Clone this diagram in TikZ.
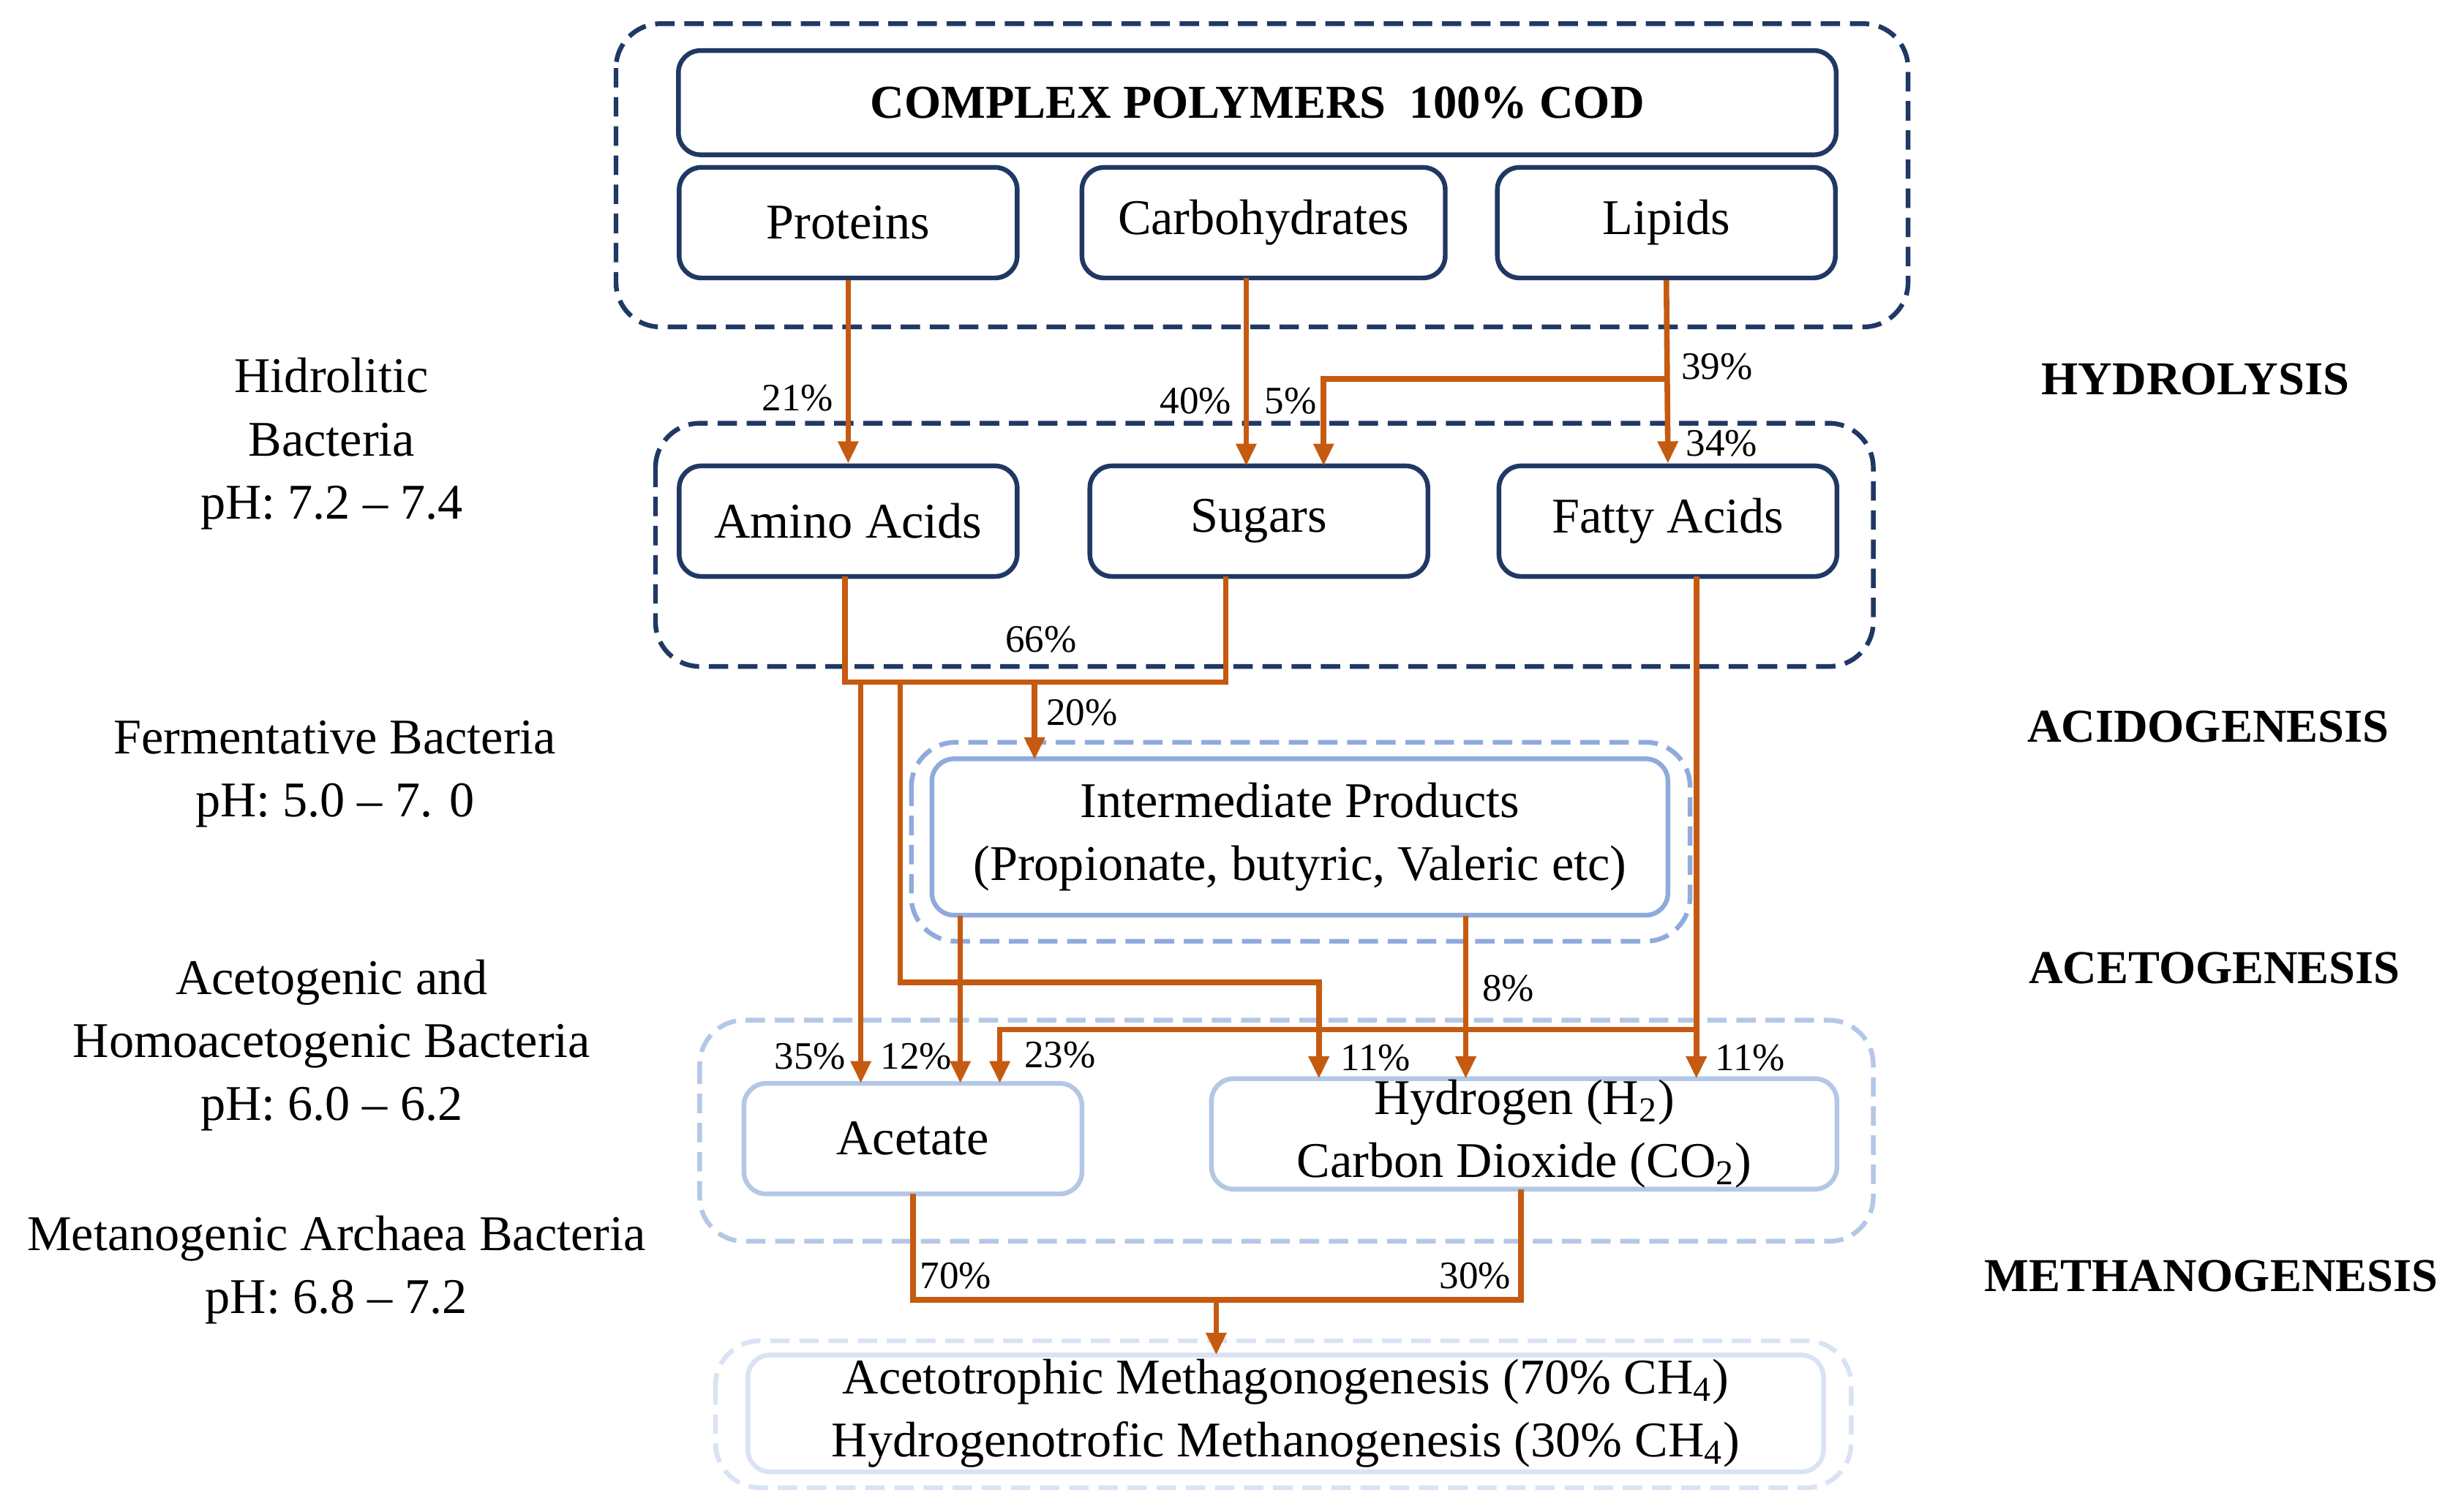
\documentclass[tikz,border=0pt]{standalone}
\usepackage{fontspec}
\setmainfont{Liberation Serif}
\usetikzlibrary{arrows.meta}
\definecolor{dk}{HTML}{203864}
\definecolor{md}{HTML}{8FAADC}
\definecolor{lt}{HTML}{B4C7E7}
\definecolor{vl}{HTML}{DAE3F3}
\definecolor{org}{HTML}{C55A11}
\begin{document}
\begin{tikzpicture}[x=0.02cm,y=-0.02cm,
 box/.style={draw=#1,line width=1.7pt,rounded corners=8pt,inner sep=0pt,font=\fontsize{18}{22.7}\selectfont,align=center},
 grp/.style={draw=#1,line width=1.7pt,dash pattern=on 7pt off 3.5pt,rounded corners=16pt},
 lab/.style={font=\fontsize{18}{22.7}\selectfont,align=center},
 ttl/.style={font=\fontsize{17}{20}\selectfont\bfseries},
 pc/.style={font=\fontsize{14}{15}\selectfont,inner sep=1pt},
 ln/.style={draw=org,line width=2pt},
 arr/.style={ln,-{Triangle[length=8pt,width=7pt]}}]
\useasboundingbox (0,0) rectangle (1560,950);
% groups
\draw[grp=dk] (390,15) rectangle (1208,207);
\draw[grp=dk] (415,268) rectangle (1186,422);
\draw[grp=md] (577,470) rectangle (1070,596);
\draw[grp=lt] (443,646) rectangle (1186,786);
\draw[grp=vl] (453,849) rectangle (1172,942);
% boxes
\node[box=dk,minimum width=733*0.02cm,minimum height=66*0.02cm,font=\fontsize{17}{20}\selectfont\bfseries] (cp) at (796,65) {COMPLEX POLYMERS\ \ 100\% COD};
\node[box=dk,minimum width=214*0.02cm,minimum height=70*0.02cm] (prot) at (537,141) {Proteins};
\node[box=dk,minimum width=230*0.02cm,minimum height=70*0.02cm] (carb) at (800,141) {Carbohydrates};
\node[box=dk,minimum width=214*0.02cm,minimum height=70*0.02cm] (lip) at (1055,141) {Lipids};
\node[box=dk,minimum width=214*0.02cm,minimum height=70*0.02cm] (amino) at (537,330) {Amino Acids};
\node[box=dk,minimum width=214*0.02cm,minimum height=70*0.02cm] (sug) at (797,330) {Sugars};
\node[box=dk,minimum width=214*0.02cm,minimum height=70*0.02cm] (fat) at (1056,330) {Fatty Acids};
\node[box=md,minimum width=466*0.02cm,minimum height=99*0.02cm] (inter) at (823,530) {Intermediate Products\\(Propionate, butyric, Valeric etc)};
\node[box=lt,minimum width=214*0.02cm,minimum height=70*0.02cm] (acet) at (578,721) {Acetate};
\node[box=lt,minimum width=396*0.02cm,minimum height=70*0.02cm] (hyd) at (965,718) {Hydrogen (H\textsubscript{2})\\Carbon Dioxide (CO\textsubscript{2})};
\node[box=vl,minimum width=681*0.02cm,minimum height=74*0.02cm] (meth) at (814,895) {Acetotrophic Methagonogenesis (70\% CH\textsubscript{4})\\Hydrogenotrofic Methanogenesis (30\% CH\textsubscript{4})};
% side labels
\node[lab] at (210,281) {Hidrolitic\\Bacteria\\pH: 7.2 -- 7.4};
\node[lab] at (212,490) {Fermentative Bacteria\\pH: 5.0 -- 7. 0};
\node[lab] at (210,662) {Acetogenic and\\Homoacetogenic Bacteria\\pH: 6.0 -- 6.2};
\node[lab] at (213,804) {Metanogenic Archaea Bacteria\\pH: 6.8 -- 7.2};
\node[ttl] at (1390,240) {HYDROLYSIS};
\node[ttl] at (1398,460) {ACIDOGENESIS};
\node[ttl] at (1402,613) {ACETOGENESIS};
\node[ttl] at (1400,808) {METHANOGENESIS};
% connectors
\draw[arr] (prot.south) -- (amino.north);
\draw[arr] (789,176) -- (789,295);
\draw[arr] (lip.south) -- (fat.north);
\draw[arr] (1055,240) -- (838,240) -- (838,295);
\draw[ln] (535,365) -- (535,432) -- (776,432) -- (776,365);
\draw[arr] (655,432) -- (655,481);
\draw[arr] (545,432) -- (545,686);
\draw[arr] (570,432) -- (570,622) -- (835,622) -- (835,683);
\draw[arr] (608,580) -- (608,686);
\draw[arr] (928,580) -- (928,683);
\draw[arr] (1074,365) -- (1074,683);
\draw[arr] (1074,652) -- (633,652) -- (633,686);
\draw[ln] (578,756) -- (578,823) -- (963,823) -- (963,753);
\draw[arr] (770,823) -- (770,858);
% percentages
\node[pc] at (505,252) {21\%};
\node[pc] at (757,254) {40\%};
\node[pc] at (817,254) {5\%};
\node[pc] at (1087,232) {39\%};
\node[pc] at (1090,281) {34\%};
\node[pc] at (659,405) {66\%};
\node[pc] at (685,451) {20\%};
\node[pc] at (513,669) {35\%};
\node[pc] at (580,669) {12\%};
\node[pc] at (671,668) {23\%};
\node[pc] at (871,670) {11\%};
\node[pc] at (955,626) {8\%};
\node[pc] at (1108,670) {11\%};
\node[pc] at (605,808) {70\%};
\node[pc] at (934,808) {30\%};
\end{tikzpicture}
\end{document}
